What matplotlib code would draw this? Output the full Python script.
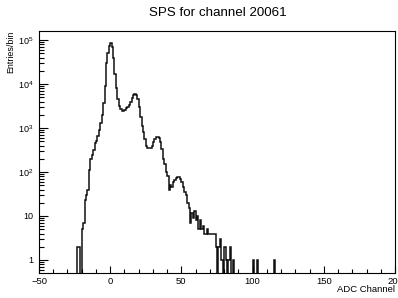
import numpy as np
import matplotlib.pyplot as plt
from matplotlib.ticker import FixedLocator, MultipleLocator, NullFormatter

plt.rcParams['font.family'] = ['Liberation Sans', 'DejaVu Sans']
plt.rcParams['mathtext.fontset'] = 'custom'
plt.rcParams['mathtext.rm'] = 'Liberation Sans'
plt.rcParams['mathtext.it'] = 'Liberation Sans'

# histogram: 250 bins of width 1 from -50 to 200
x_lo, x_hi = -50, 200
first_bin = -23
counts = [
    2, 2, 0, 5, 7, 23, 30, 38, 110, 200,            # -23 .. -14
    250, 320, 450, 520, 650, 900, 1300, 2000, 3700, 9000,   # -13 .. -4
    30000, 52000, 75000, 85000, 70000, 40000, 17000, 8000, 4500, 3200,  # -3 .. 6
    2700, 2500, 2500, 2600, 2800, 3000, 3300, 4000, 4800, 5500,  # 7 .. 16
    5800, 5500, 4500, 3000, 1800, 1100, 800, 550, 400, 360,  # 17 .. 26
    350, 360, 400, 480, 560, 610, 620, 580, 480, 330,  # 27 .. 36
    200, 150, 100, 80, 40, 50, 45, 60, 65, 75,  # 37 .. 46
    78, 78, 70, 60, 46, 35, 30, 20, 15, 7,  # 47 .. 56
    12, 9, 13, 8, 10, 5, 8, 5, 6, 4,  # 57 .. 66
    4, 5, 4, 4, 4, 4, 4, 2, 0, 2,  # 67 .. 76
    3, 1, 0, 2, 1, 0, 1, 2, 0, 1,  # 77 .. 86
    0, 0, 0, 0, 0, 0, 0, 0, 0, 0,  # 87 .. 96
    0, 0, 0, 1, 0, 0, 1, 0, 0, 0,  # 97 .. 106
    0, 0, 0, 0, 0, 0, 0, 0, 1,  # 107 .. 115
]
y_ticks = [1, 10, 1e2, 1e3, 1e4, 1e5]
y_labels = ['1', '10', '$10^{2}$', '$10^{3}$', '$10^{4}$', '$10^{5}$']

edges = np.arange(x_lo, x_hi + 1)
h = np.zeros(len(edges) - 1)
h[first_bin - x_lo:first_bin - x_lo + len(counts)] = counts
# empty bins drawn below the axis so the outline drops to the bottom
h_draw = np.where(h > 0, h, 1e-3)

fig = plt.figure(figsize=(3.98, 2.98), dpi=100)
ax = fig.add_axes([0.098, 0.085, 0.8945, 0.812])

ax.stairs(h_draw, edges, color='#111111', linewidth=1.1, baseline=None)

ax.set_yscale('log')
ax.set_xlim(x_lo, x_hi)
ax.set_ylim(0.515, 1.63e5)

ax.xaxis.set_major_locator(MultipleLocator(50))
ax.xaxis.set_minor_locator(MultipleLocator(10))
ax.yaxis.set_major_locator(FixedLocator(y_ticks))
ax.set_yticklabels(y_labels)
ax.yaxis.set_minor_formatter(NullFormatter())

ax.tick_params(axis='x', which='major', direction='in', length=5, width=0.8,
               labelsize=6.8, pad=3, top=False)
ax.tick_params(axis='x', which='minor', direction='in', length=2.8, width=0.8, top=False)
ax.tick_params(axis='y', which='major', direction='in', length=6.5, width=0.8,
               labelsize=6.5, pad=4, right=False)
ax.tick_params(axis='y', which='minor', direction='in', length=3.5, width=0.8, right=False)
for s in ax.spines.values():
    s.set_linewidth(0.8)

fig.text(0.548, 0.956, 'SPS for channel 20061', ha='center', va='center', fontsize=9.6)
fig.text(0.992, 0.03, 'ADC Channel', ha='right', va='center', fontsize=6.8)
fig.text(0.027, 0.897, 'Entries/bin', ha='center', va='top', rotation=90, fontsize=6.4)

fig.savefig('out.png', dpi=100)
